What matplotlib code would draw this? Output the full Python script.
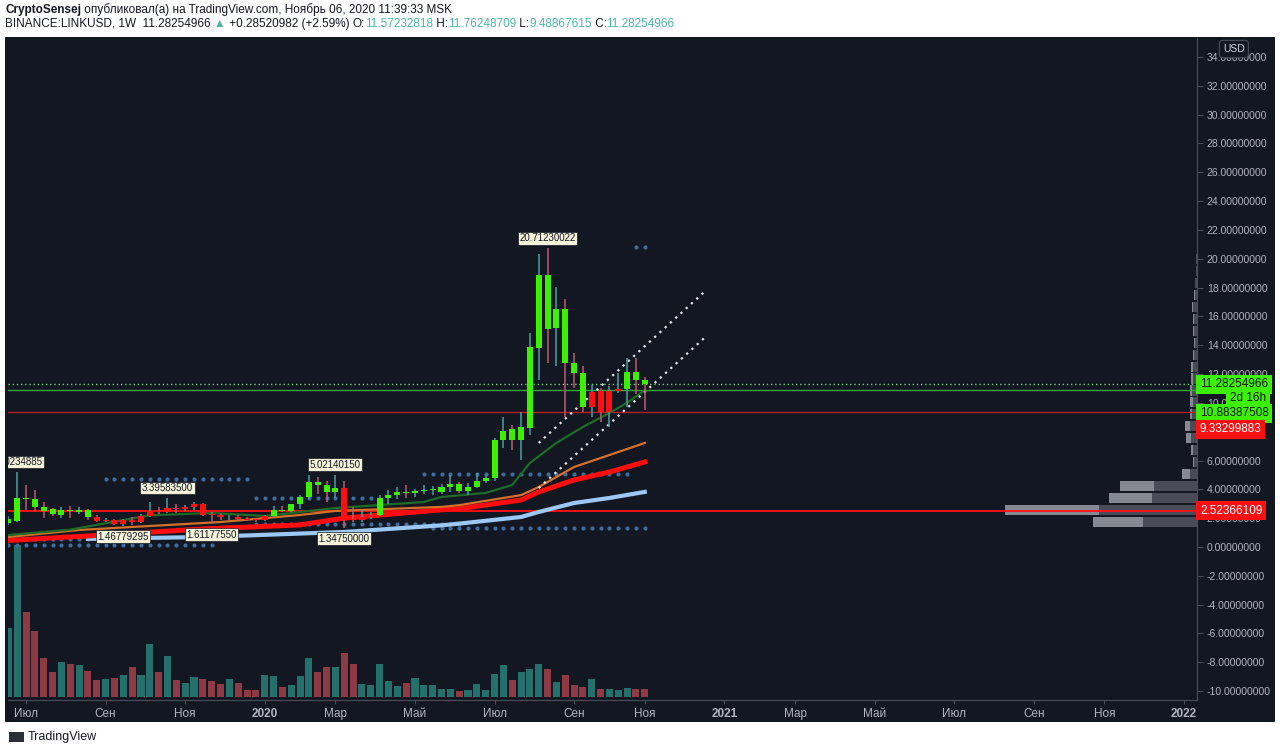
import datetime as dt

import matplotlib.pyplot as plt
import matplotlib.dates as mdates
import matplotlib.transforms as mtransforms
from matplotlib.patches import Rectangle

plt.rcParams['font.family'] = ['Liberation Sans', 'DejaVu Sans']

# weekly candles, first bar = week of 2019-06-17
FIRST_WEEK = dt.date(2019, 6, 17)
opens = [1.69, 1.80, 3.42, 3.31, 2.80, 2.60, 2.22, 2.57, 2.45, 2.57,
         2.05, 1.78, 1.85, 1.62, 1.85, 1.70, 2.15, 2.50, 2.45, 2.72,
         2.62, 2.75, 2.95, 2.25, 2.20, 2.05, 2.10, 1.95, 1.88, 1.85,
         2.15, 2.58, 2.52, 2.95, 3.50, 4.53, 4.30, 3.80, 4.10, 1.95,
         1.88, 2.10, 2.25, 3.38, 3.60, 3.78, 3.75, 3.85, 3.95, 3.84,
         4.19, 4.35, 3.91, 4.19, 4.60, 4.79, 7.43, 8.16, 7.43, 8.24,
         13.80, 18.88, 15.17, 16.49, 12.79, 12.05, 9.74, 10.85, 9.39, 10.85,
         10.95, 12.16, 11.57232818]
highs = [2.15, 5.20, 4.30, 3.96, 3.14, 2.70, 2.80, 2.85, 2.80, 2.65,
         2.25, 2.00, 1.97, 1.97, 2.05, 2.30, 3.14, 2.80, 3.3958, 2.95,
         2.90, 3.10, 3.05, 2.40, 2.35, 2.20, 2.20, 2.05, 2.00, 2.25,
         2.85, 2.85, 3.00, 3.62, 5.00, 4.88, 4.55, 5.0214, 4.55, 2.80,
         2.55, 2.40, 3.60, 3.96, 4.15, 4.30, 4.00, 4.30, 4.20, 4.40,
         5.00, 4.50, 4.44, 5.10, 5.00, 7.55, 9.04, 8.46, 9.40, 14.83,
         20.33, 20.7123, 18.02, 17.19, 13.49, 12.55, 11.24, 11.00, 11.20, 12.05,
         13.09, 13.09, 11.76248709]
lows = [1.53, 1.70, 2.57, 2.52, 2.01, 2.15, 2.00, 2.00, 2.30, 1.90,
        1.70, 1.70, 1.52, 1.4678, 1.50, 1.65, 2.10, 2.30, 2.35, 2.35,
        2.50, 2.55, 2.15, 1.6118, 1.90, 1.90, 1.85, 1.78, 1.72, 1.80,
        2.05, 2.40, 2.45, 2.65, 3.30, 3.70, 3.10, 3.38, 1.3475, 1.70,
        1.75, 1.95, 2.15, 3.00, 3.30, 3.40, 3.50, 3.70, 3.60, 3.70,
        3.84, 3.75, 3.60, 4.10, 4.45, 4.60, 6.85, 6.73, 6.04, 7.80,
        11.60, 12.75, 12.56, 9.00, 11.01, 9.39, 9.04, 8.70, 8.35, 10.70,
        9.74, 10.62, 9.48867615]
closes = [1.92, 3.38, 3.30, 2.80, 2.52, 2.27, 2.57, 2.48, 2.57, 2.05,
          1.78, 1.85, 1.62, 1.85, 1.70, 2.15, 2.50, 2.45, 2.72, 2.62,
          2.75, 2.95, 2.25, 2.20, 2.05, 2.10, 1.95, 1.88, 1.85, 2.15,
          2.58, 2.52, 2.95, 3.50, 4.53, 4.30, 3.80, 4.10, 1.85, 1.88,
          2.10, 2.25, 3.38, 3.60, 3.78, 3.75, 3.85, 3.95, 4.05, 4.19,
          4.37, 3.91, 4.19, 4.60, 4.79, 7.43, 8.07, 7.43, 8.35, 13.86,
          18.88, 15.10, 16.49, 12.79, 12.05, 9.74, 10.78, 9.39, 10.85, 10.95,
          12.16, 11.60, 11.28254966]
# bar colouring of the indicator: g = lime, r = red
body_colors = 'gggggggggg' + 'rrrrrrrrrrrrrrrrrrrr' + 'gggggggg' + 'rrrr' + 'g' * 24 + 'rrrr' + 'ggg'
volumes = [69, 152, 85, 66, 39, 25, 35, 33, 32, 26,
           17, 18, 19, 22, 30, 22, 53, 25, 41, 17,
           14, 20, 18, 16, 13, 18, 14, 7, 7, 22,
           21, 10, 12, 21, 39, 25, 30, 30, 44, 33,
           13, 12, 33, 16, 11, 14, 19, 12, 12, 8,
           8, 6, 7, 13, 7, 23, 32, 17, 25, 28,
           33, 28, 15, 22, 12, 10, 18, 8, 8, 7,
           9, 8, 8]

# moving averages (week index, value)
ma_green_idx = [0, 7, 16, 23, 29, 37, 47, 49, 54, 57, 59, 62, 65, 68, 70, 72]
ma_green = [0.83, 1.20, 2.20, 2.36, 2.15, 2.70, 3.12, 3.47, 3.75, 4.30, 5.83, 7.22, 8.33, 9.30, 10.0, 10.88]
ma_orange_idx = [0, 8, 24, 33, 37, 49, 51, 58, 60, 64, 68, 72]
ma_orange = [0.69, 1.18, 1.73, 2.22, 2.50, 2.78, 2.90, 3.60, 4.16, 5.55, 6.38, 7.22]
ma_red_idx = [0, 10, 22, 33, 38, 49, 51, 58, 60, 64, 68, 72]
ma_red = [0.45, 0.80, 1.25, 1.53, 2.00, 2.58, 2.65, 3.26, 3.82, 4.65, 5.20, 5.90]
ma_blue_idx = [9, 22, 38, 49, 51, 58, 60, 64, 68, 72]
ma_blue = [0.56, 0.69, 1.04, 1.50, 1.62, 2.08, 2.43, 3.05, 3.40, 3.82]

# dotted support / resistance levels: (first week, last week, price)
dot_levels = [(11, 27, 4.72), (0, 10, 0.55), (0, 23, 0.14), (28, 41, 3.40),
              (28, 51, 1.60), (47, 70, 5.05), (48, 72, 1.32), (71, 72, 20.80)]

# pivot labels: (week, price, text, above)
pivots = [(1, 5.20, '5.20234885', True), (18, 3.3958, '3.39583500', True),
          (13, 1.4678, '1.46779295', False), (23, 1.6118, '1.61177550', False),
          (37, 5.0214, '5.02140150', True), (38, 1.3475, '1.34750000', False),
          (61, 20.7123, '20.71230022', True)]

# trend channel (date, price) pairs
channel_upper = [(dt.date(2020, 8, 10), 7.22), (dt.date(2020, 12, 20), 17.77)]
channel_lower = [(dt.date(2020, 8, 10), 4.09), (dt.date(2020, 12, 20), 14.57)]

# volume profile on the right: bin centre, dark part, light part
vp_prices = [1.73, 2.56, 3.39, 4.22, 5.05, 5.88, 6.71, 7.54, 8.37, 9.20, 10.03, 10.86,
             11.69, 12.52, 13.35, 14.18, 15.01, 15.84, 16.67, 17.50, 18.33, 19.16, 19.99]
vp_dark = [54, 98, 45, 43, 7, 3, 4, 6, 7, 5, 4, 5, 4, 4, 3, 2, 3, 3, 4, 2, 2, 1, 1]
vp_light = [50, 94, 43, 34, 8, 1, 2, 5, 5, 2, 3, 2, 2, 2, 1, 1, 1, 1, 1, 1, 0, 0, 0]

tick_dates = [dt.date(2019, 7, 1), dt.date(2019, 9, 2), dt.date(2019, 11, 4), dt.date(2020, 1, 6),
              dt.date(2020, 3, 2), dt.date(2020, 5, 4), dt.date(2020, 7, 6), dt.date(2020, 9, 7),
              dt.date(2020, 11, 2), dt.date(2021, 1, 4), dt.date(2021, 3, 1), dt.date(2021, 5, 3),
              dt.date(2021, 7, 5), dt.date(2021, 9, 6), dt.date(2021, 11, 1), dt.date(2022, 1, 3)]
tick_labels = ['Июл', 'Сен', 'Ноя', '2020', 'Мар', 'Май', 'Июл', 'Сен', 'Ноя',
               '2021', 'Мар', 'Май', 'Июл', 'Сен', 'Ноя', '2022']

BG = '#131722'
TXT = '#b2b5be'
LIME = '#3cf000'
RED = '#ff1010'
UP_WICK = '#4a9fa0'
DN_WICK = '#b95d6c'
VOL_UP = '#23706c'
VOL_DN = '#8e3a44'

base = mdates.date2num(FIRST_WEEK)
weeks = [base + 7 * i for i in range(len(opens))]

W, H = 1280, 752
fig = plt.figure(figsize=(W / 100, H / 100), dpi=100, facecolor='white')
fig.patches.append(Rectangle((5 / W, 1 - 722 / H), 1270 / W, 685 / H,
                             transform=fig.transFigure, fc=BG, ec='none', zorder=-5))

pos = [8 / W, 1 - 700 / H, 1189 / W, 662 / H]
x0, x1 = base - 0.3, base + 941.3
y0, y1 = -10.62, 35.32

# volume
axv = fig.add_axes(pos, facecolor=BG)
axv.bar(weeks, volumes, width=5.6,
        color=[VOL_UP if c >= o else VOL_DN for o, c in zip(opens, closes)])
axv.set_xlim(x0, x1)
axv.set_ylim(-3, 659)
axv.axis('off')

# volume profile
axp = fig.add_axes(pos, facecolor='none')
axp.barh(vp_prices, vp_dark, height=0.7, left=0, color='#4d505b', alpha=0.95)
axp.barh(vp_prices, vp_light, height=0.7, left=vp_dark, color='#8d9099', alpha=0.95)
axp.set_xlim(1189, 0)
axp.set_ylim(y0, y1)
axp.axis('off')

# price
ax = fig.add_axes(pos, facecolor='none')
ax.set_xlim(x0, x1)
ax.set_ylim(y0, y1)

for lev in dot_levels:
    xs = [weeks[i] for i in range(lev[0], lev[1] + 1)]
    ax.scatter(xs, [lev[2]] * len(xs), s=9, color='#3f6c9e', zorder=2, linewidths=0)

ax.axhline(2.52366109, color=RED, lw=1.3, zorder=2)
ax.axhline(9.33299883, color='#b3202c', lw=1, zorder=2)
ax.axhline(10.88387508, color='#3aa33a', lw=1, zorder=2)
ax.axhline(11.28254966, color='#6fd36f', lw=1, ls=(0, (1, 2)), zorder=2)

ax.plot([weeks[i] for i in ma_blue_idx], ma_blue, color='#9cc8f5', lw=3, zorder=3)
ax.plot([weeks[i] for i in ma_red_idx], ma_red, color='#ff0d0d', lw=3.6, zorder=3)
ax.plot([weeks[i] for i in ma_orange_idx], ma_orange, color='#d4702a', lw=1.6, zorder=3)
ax.plot([weeks[i] for i in ma_green_idx], ma_green, color='#1e6b26', lw=1.6, zorder=3)

for seg in (channel_upper, channel_lower):
    ax.plot([mdates.date2num(d) for d, _ in seg], [v for _, v in seg],
            color='#e6e6e6', lw=1.6, ls=(0, (1, 2.2)), zorder=4)

for x, o, h, l, c, bc in zip(weeks, opens, highs, lows, closes, body_colors):
    ax.vlines(x, l, h, color=UP_WICK if c >= o else DN_WICK, lw=1.1, zorder=5)
    lo, hi = min(o, c), max(o, c)
    ax.bar(x, max(hi - lo, 0.06), bottom=lo, width=4.8,
           color=LIME if bc == 'g' else RED, zorder=6)

for i, price, txt, above in pivots:
    ax.annotate(txt, (weeks[i], price), xytext=(0, 10 if above else -11),
                textcoords='offset pixels', ha='center', va='center', fontsize=7,
                color='#131722', zorder=8, annotation_clip=False, clip_on=True,
                bbox=dict(boxstyle='square,pad=0.15', fc='#f4f2d8', ec='#131722', lw=0.5))

# axes styling
for s in ('left', 'top'):
    ax.spines[s].set_visible(False)
ax.spines['right'].set_color('#4a4e59')
ax.spines['bottom'].set_color('#4a4e59')
ax.yaxis.tick_right()
ax.set_yticks(range(-10, 35, 2))
ax.set_yticklabels(['{:.8f}'.format(v) for v in range(-10, 35, 2)])
ax.tick_params(axis='y', colors='#4a4e59', labelsize=7.5, length=4, pad=3, labelcolor=TXT)
ax.set_xticks([mdates.date2num(d) for d in tick_dates])
ax.set_xticklabels(tick_labels)
ax.tick_params(axis='x', colors='#4a4e59', labelcolor=TXT, labelsize=8.5, length=3, pad=3)
for lab in ax.get_xticklabels():
    if lab.get_text().isdigit():
        lab.set_fontweight('bold')

# price scale labels
btr = mtransforms.blended_transform_factory(ax.transAxes, ax.transData)
scale_labels = [(11.28254966, '11.28254966', LIME, '#131722', 3, 0),
                (10.88387508, '2d 16h', LIME, '#131722', 33, -8),
                (10.88387508, '10.88387508', LIME, '#131722', 3, -23),
                (9.33299883, '9.33299883', RED, 'white', 3, -17),
                (2.52366109, '2.52366109', RED, 'white', 3, 0)]
for v, txt, fc, tc, dx, dy in scale_labels:
    ax.annotate(txt, (1, v), xycoords=btr, xytext=(dx, dy), textcoords='offset pixels',
                ha='left', va='center', fontsize=8.5, color=tc, annotation_clip=False,
                bbox=dict(boxstyle='square,pad=0.3', fc=fc, ec='none'), zorder=10)
ax.annotate('USD', (1, 1), xycoords='axes fraction', xytext=(26, -11),
            textcoords='offset pixels', ha='left', va='center', fontsize=7.5, color='#d1d4dc',
            annotation_clip=False, zorder=10,
            bbox=dict(boxstyle='round,pad=0.35', fc=BG, ec='#4a4e59', lw=0.8))

# header
DARK = '#131722'
TEAL = '#4db6ac'
line1 = [('CryptoSensej', DARK, 'bold'),
         (' опубликовал(а) на TradingView.com, Ноябрь 06, 2020 11:39:33 MSK', DARK, 'normal')]
line2 = [('BINANCE:LINKUSD, 1W', DARK, 'normal'), ('  11.28254966 ', DARK, 'normal'),
         ('▲', TEAL, 'normal'), (' +0.28520982 (+2.59%) ', DARK, 'normal'),
         ('O:', DARK, 'normal'), ('11.57232818', TEAL, 'normal'), (' H:', DARK, 'normal'),
         ('11.76248709', TEAL, 'normal'), (' L:', DARK, 'normal'), ('9.48867615', TEAL, 'normal'),
         (' C:', DARK, 'normal'), ('11.28254966', TEAL, 'normal')]

renderer = fig.canvas.get_renderer()


def rich(parts, x, y):
    for txt, col, wt in parts:
        t = fig.text(x, y, txt, color=col, fontweight=wt, fontsize=8.5, va='center', ha='left')
        x = t.get_window_extent(renderer).x1 / W


rich(line1, 5 / W, 1 - 10 / H)
rich(line2, 5 / W, 1 - 24 / H)

fig.patches.append(Rectangle((9 / W, 1 - 742 / H), 15 / W, 10 / H,
                             transform=fig.transFigure, fc='#2a2e39', ec='none'))
fig.text(28 / W, 1 - 737 / H, 'TradingView', fontsize=9, color=DARK, va='center')

fig.savefig('out.png', dpi=100, facecolor='white')
